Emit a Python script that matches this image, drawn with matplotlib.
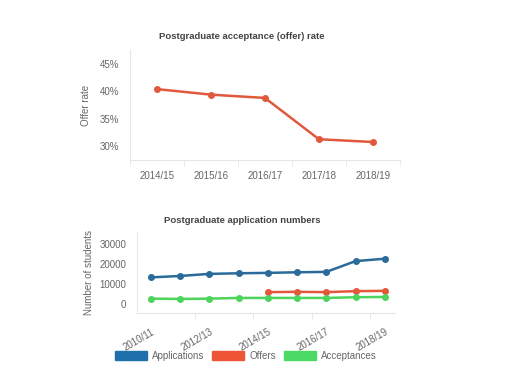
import numpy as np
import matplotlib.pyplot as plt
from matplotlib.patches import Patch

plt.rcParams['font.family'] = ['Liberation Sans', 'DejaVu Sans']

# offer rate data
rate_years = ["2014/15", "2015/16", "2016/17", "2017/18", "2018/19"]
offer_rate = [40.4, 39.4, 38.8, 31.3, 30.8]

# application numbers data
years = ["2010/11", "2011/12", "2012/13", "2013/14", "2014/15",
         "2015/16", "2016/17", "2017/18", "2018/19"]
applications = [13350, 14050, 15100, 15400, 15600, 15900, 16100, 21500, 22700]
offers = [None, None, None, None, 5950, 6100, 5950, 6450, 6600]
acceptances = [2700, 2550, 2700, 3050, 3050, 3050, 3050, 3400, 3550]

text_col = "#666666"
grid_col = "#e6e6e6"

fig = plt.figure(figsize=(5.12, 3.85), dpi=100)

# ---- top chart ----
ax1 = fig.add_axes([0.254, 0.584, 0.527, 0.286])
x1 = np.arange(len(rate_years))
ax1.plot(x1, offer_rate, color="#e0593d", lw=1.8, marker="o", ms=4)
ax1.set_xlim(-0.5, len(rate_years) - 0.5)
ax1.set_ylim(27.5, 47.5)
ax1.set_yticks([30, 35, 40, 45])
ax1.set_yticklabels(["30%", "35%", "40%", "45%"])
ax1.set_xticks(x1)
ax1.set_xticklabels(rate_years)
ax1.set_xticks(np.arange(len(rate_years) + 1) - 0.5, minor=True)
ax1.tick_params(axis="x", which="major", length=0, pad=8)
ax1.tick_params(axis="x", which="minor", length=4, color=grid_col)
ax1.tick_params(axis="y", length=0, pad=8)
ax1.set_ylabel("Offer rate", fontsize=7, color=text_col, labelpad=6)
fig.text(0.473, 0.906, "Postgraduate acceptance (offer) rate", fontsize=6.8,
         fontweight="bold", color="#444444", ha="center", va="center")

# ---- bottom chart ----
ax2 = fig.add_axes([0.268, 0.187, 0.503, 0.210])
x2 = np.arange(len(years))
off = np.array([np.nan if v is None else v for v in offers], dtype=float)
ax2.plot(x2, applications, color="#2a6b99", lw=1.8, marker="o", ms=4)
ax2.plot(x2, off, color="#e4573b", lw=1.8, marker="o", ms=4)
ax2.plot(x2, acceptances, color="#4cd45c", lw=1.8, marker="o", ms=4)
ax2.set_xlim(-0.47, len(years) - 0.66)
ax2.set_ylim(-4500, 36000)
ax2.set_yticks([0, 10000, 20000, 30000])
ax2.set_xticks(x2[::2])
ax2.set_xticklabels(years[::2], rotation=30, ha="right", va="top",
                    rotation_mode="anchor")
ax2.set_xticks(x2[1::2] + 0.5, minor=True)
ax2.tick_params(axis="x", which="major", length=0, pad=10)
ax2.tick_params(axis="x", which="minor", length=4, color=grid_col)
ax2.tick_params(axis="y", length=0, pad=8)
ax2.set_ylabel("Number of students", fontsize=7, color=text_col, labelpad=4)
fig.text(0.473, 0.426, "Postgraduate application numbers", fontsize=6.8,
         fontweight="bold", color="#444444", ha="center", va="center")

for ax in (ax1, ax2):
    for s in ("top", "right"):
        ax.spines[s].set_visible(False)
    for s in ("left", "bottom"):
        ax.spines[s].set_color(grid_col)
    ax.tick_params(labelsize=7, labelcolor=text_col)

handles = [Patch(color="#1f6fab", label="Applications"),
           Patch(color="#ee5535", label="Offers"),
           Patch(color="#4cd964", label="Acceptances")]
leg = fig.legend(handles=handles, loc="center", bbox_to_anchor=(0.48, 0.076),
                 ncol=3, frameon=False, fontsize=7, handlelength=3.3,
                 handleheight=1.1, columnspacing=0.8, handletextpad=0.5)
for t in leg.get_texts():
    t.set_color(text_col)

fig.savefig("out.png", dpi=100)
